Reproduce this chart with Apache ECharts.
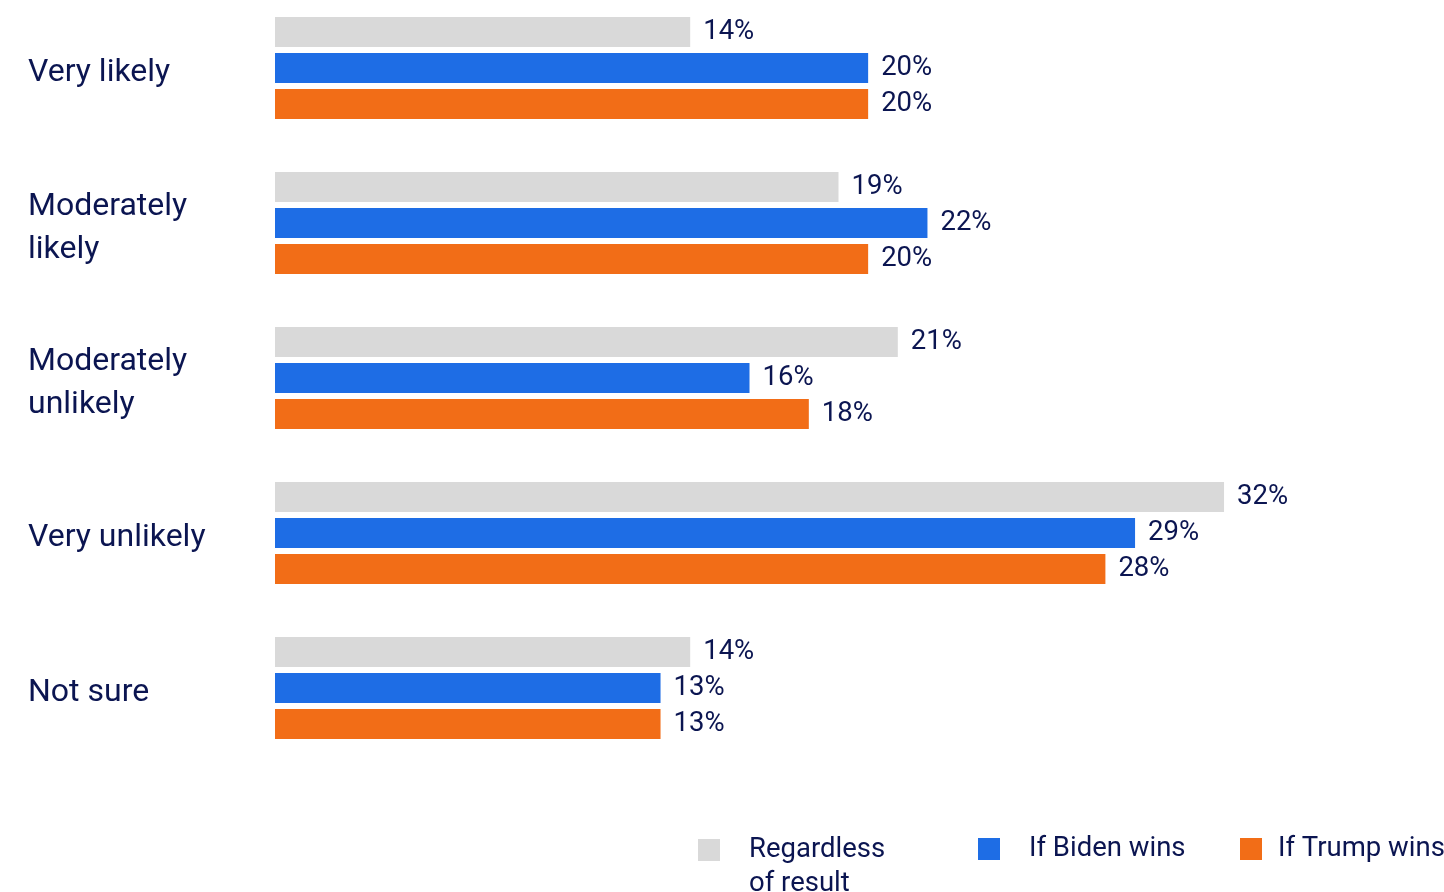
<!DOCTYPE html>
<html>
<head>
<meta charset="utf-8">
<script src="https://cdn.jsdelivr.net/npm/echarts@6/dist/echarts.min.js"></script>
<style>html,body{margin:0;padding:0;background:#fff}#c{width:1444px;height:892px}</style>
</head>
<body>
<div id="c"></div>
<script>
const categories = ['Very likely', 'Moderately\nlikely', 'Moderately\nunlikely', 'Very unlikely', 'Not sure'];
const seriesNames = ['Regardless of result', 'If Biden wins', 'If Trump wins'];
const regardless = [14, 19, 21, 32, 14];
const biden = [20, 22, 16, 29, 13];
const trump = [20, 20, 18, 28, 13];
const colors = ['#d9d9d9', '#1e6de5', '#f26d17'];
const textColor = '#0b1551';
const font = 'Roboto';

const chart = echarts.init(document.getElementById('c'));
const mk = (name, data, color) => ({
  name, type: 'bar', data, barWidth: 30, barGap: '20%', clip: false,
  itemStyle: { color },
  label: { show: true, position: 'right', distance: 13, formatter: '{c}%',
    color: textColor, fontFamily: font, fontSize: 27.5 },
  emphasis: { disabled: true }
});
const legendBase = {
  orient: 'horizontal', itemWidth: 22, itemHeight: 22, icon: 'rect', selectedMode: false, padding: 0
};
chart.setOption({
  animation: false,
  grid: { left: 275, right: 131, top: 68, bottom: 204, containLabel: false },
  xAxis: { type: 'value', min: 0, max: 35, show: false },
  yAxis: {
    type: 'category', data: categories, inverse: true, boundaryGap: false,
    axisLine: { show: false }, axisTick: { show: false }, splitLine: { show: false },
    axisLabel: { align: 'left', margin: 247, color: textColor, fontFamily: font,
      fontSize: 32, lineHeight: 43,
      formatter: v => v.split('\n').map(s => '{a|' + s + '}').join('\n'),
      rich: { a: { color: textColor, fontFamily: font, fontSize: 32, lineHeight: 43, padding: [10, 0, 0, 0] } } }
  },
  legend: [
    Object.assign({}, legendBase, { left: 698, top: 799, data: [seriesNames[0]],
      formatter: () => ' \nRegardless\nof result',
      textStyle: { color: textColor, fontFamily: font, fontSize: 27.5, lineHeight: 34, padding: [0, 0, 0, 24] } }),
    Object.assign({}, legendBase, { left: 978, top: 832, data: [seriesNames[1]],
      textStyle: { color: textColor, fontFamily: font, fontSize: 27.5, lineHeight: 34, padding: [0, 0, 0, 24] } }),
    Object.assign({}, legendBase, { left: 1240, top: 832, data: [seriesNames[2]],
      textStyle: { color: textColor, fontFamily: font, fontSize: 27.5, lineHeight: 34, padding: [0, 0, 0, 11] } })
  ],
  series: [
    mk(seriesNames[0], regardless, colors[0]),
    mk(seriesNames[1], biden, colors[1]),
    mk(seriesNames[2], trump, colors[2])
  ]
});
</script>
</body>
</html>
